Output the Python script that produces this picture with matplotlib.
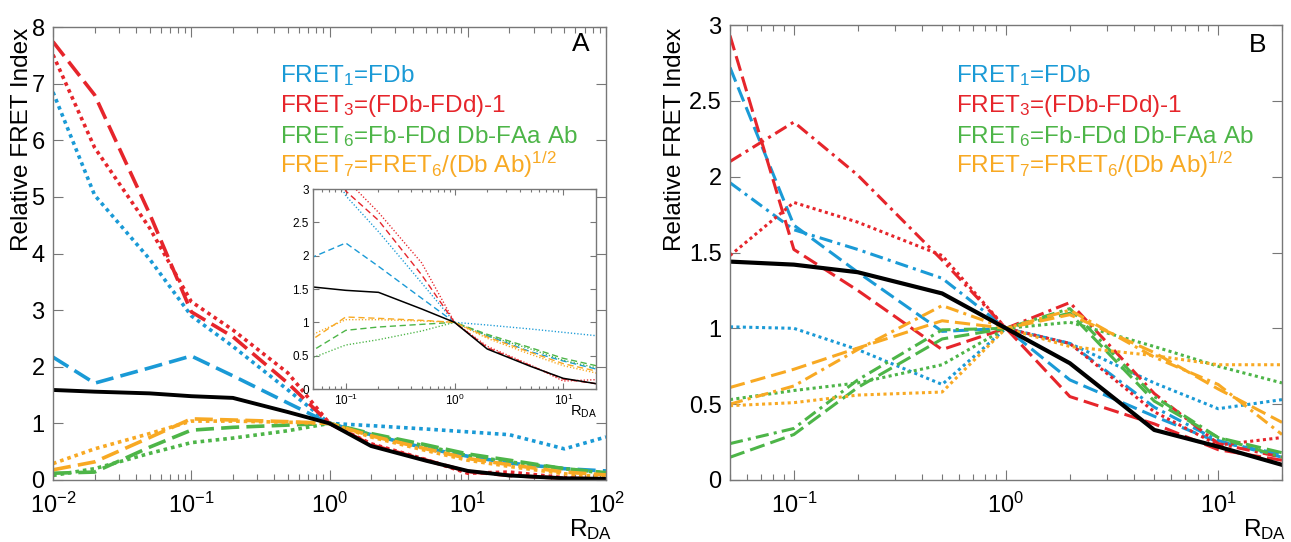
import matplotlib
matplotlib.use("Agg")
import matplotlib.pyplot as plt
from matplotlib.ticker import FixedLocator, FixedFormatter, LogLocator, NullFormatter, LogFormatterMathtext

plt.rcParams['font.family'] = ['Liberation Sans', 'DejaVu Sans']
plt.rcParams['mathtext.fontset'] = 'custom'
plt.rcParams['mathtext.rm'] = 'Liberation Sans'
plt.rcParams['mathtext.it'] = 'Liberation Sans:italic'
plt.rcParams['mathtext.bf'] = 'Liberation Sans:bold'
plt.rcParams['mathtext.default'] = 'regular'

# ---------------- data: panel A (and inset) ----------------
x_a = [0.01, 0.02, 0.05, 0.1, 0.2, 0.5, 1, 2, 5, 10, 20, 50, 100]
a_fret1_dotted = [6.85, 5.03, 3.9, 2.9, 2.36, 1.59, 1.0, 0.96, 0.9, 0.85, 0.8, 0.55, 0.76]
a_fret1_dashed = [2.17, 1.71, 1.98, 2.19, 1.84, 1.36, 1.0, 0.8, 0.56, 0.42, 0.3, 0.2, 0.16]
a_fret3_dashed = [7.74, 6.8, 4.7, 2.97, 2.53, 1.71, 1.0, 0.62, 0.35, 0.15, 0.08, 0.03, 0.02]
a_fret3_dotted = [7.51, 5.87, 4.45, 3.15, 2.65, 1.89, 1.0, 0.64, 0.36, 0.12, 0.14, 0.04, 0.02]
a_fret6_dashed = [0.12, 0.14, 0.58, 0.88, 0.93, 0.97, 1.0, 0.82, 0.62, 0.46, 0.35, 0.2, 0.13]
a_fret6_dotted = [0.08, 0.2, 0.47, 0.66, 0.74, 0.87, 1.0, 0.8, 0.6, 0.43, 0.32, 0.2, 0.12]
a_fret7_dashed = [0.18, 0.32, 0.75, 1.08, 1.06, 1.03, 1.0, 0.78, 0.55, 0.38, 0.27, 0.14, 0.09]
a_fret7_dotted = [0.29, 0.55, 0.82, 1.04, 1.04, 1.02, 1.0, 0.76, 0.52, 0.35, 0.24, 0.11, 0.05]
a_black = [1.59, 1.56, 1.53, 1.48, 1.45, 1.2, 1.0, 0.6, 0.34, 0.16, 0.08, 0.03, 0.02]

# ---------------- data: panel B ----------------
x_b = [0.05, 0.1, 0.2, 0.5, 1, 2, 5, 10, 20]
b_fret1_dashed = [2.72, 1.68, 1.37, 0.98, 1.0, 0.66, 0.42, 0.25, 0.17]
b_fret1_dashdot = [1.96, 1.65, 1.52, 1.33, 1.0, 0.90, 0.48, 0.26, 0.15]
b_fret1_dotted = [1.01, 1.0, 0.86, 0.63, 1.0, 0.90, 0.64, 0.47, 0.53]
b_fret3_dashed = [2.93, 1.52, 1.25, 0.86, 1.0, 0.55, 0.37, 0.20, 0.13]
b_fret3_dashdot = [2.1, 2.36, 2.01, 1.45, 1.0, 1.17, 0.57, 0.24, 0.15]
b_fret3_dotted = [1.48, 1.83, 1.70, 1.48, 1.0, 0.90, 0.45, 0.23, 0.28]
b_fret6_dashed = [0.15, 0.30, 0.61, 0.93, 1.0, 1.10, 0.52, 0.28, 0.18]
b_fret6_dashdot = [0.24, 0.34, 0.66, 0.99, 1.0, 1.13, 0.55, 0.28, 0.15]
b_fret6_dotted = [0.53, 0.59, 0.64, 0.76, 1.0, 1.04, 0.88, 0.75, 0.64]
b_fret7_dashed = [0.61, 0.73, 0.87, 1.05, 1.0, 1.09, 0.84, 0.60, 0.38]
b_fret7_dashdot = [0.50, 0.62, 0.86, 1.15, 1.0, 1.12, 0.81, 0.63, 0.30]
b_fret7_dotted = [0.49, 0.51, 0.56, 0.58, 1.0, 0.88, 0.82, 0.76, 0.76]
b_black = [1.44, 1.42, 1.37, 1.23, 1.0, 0.77, 0.33, 0.22, 0.10]

legend_labels = [r'FRET$_1$=FDb', r'FRET$_3$=(FDb-FDd)-1',
                 r'FRET$_6$=Fb-FDd Db-FAa Ab', r'FRET$_7$=FRET$_6$/(Db Ab)$^{1/2}$']

BLUE = '#1a9ad6'
RED = '#e6252b'
GREEN = '#4db548'
ORANGE = '#f8a923'
SPINE = '#777777'

DASH = (5, 2)
DOT = (1, 1.1)
DASHDOT = (4.3, 1.7, 1, 1.7)

fig = plt.figure(figsize=(12.91, 5.42), dpi=100)
axA = fig.add_axes([53/1291, 1-480/542, 553/1291, 453/542])
axB = fig.add_axes([730/1291, 1-480/542, 552/1291, 455/542])
axI = fig.add_axes([313/1291, 1-389/542, 283/1291, 200/542])


def style_axes(ax, fs, majlen, minlen):
    ax.set_xscale('log')
    for s in ax.spines.values():
        s.set_color(SPINE)
        s.set_linewidth(1.0)
    ax.tick_params(which='both', direction='in', top=True, right=True, color=SPINE,
                   labelsize=fs, width=0.8)
    ax.tick_params(which='major', length=majlen)
    ax.tick_params(which='minor', length=minlen)
    ax.xaxis.set_major_locator(LogLocator(base=10, numticks=20))
    ax.xaxis.set_major_formatter(LogFormatterMathtext())
    ax.xaxis.set_minor_locator(LogLocator(base=10, subs=range(2, 10), numticks=20))
    ax.xaxis.set_minor_formatter(NullFormatter())


def yfmt(vals):
    return [('%g' % v) for v in vals]


# ---------------- Panel A ----------------
lwA = 2.6
series_A = [
    (a_fret1_dotted, BLUE, DOT), (a_fret1_dashed, BLUE, DASH),
    (a_fret3_dashed, RED, DASH), (a_fret3_dotted, RED, DOT),
    (a_fret6_dashed, GREEN, DASH), (a_fret6_dotted, GREEN, DOT),
    (a_fret7_dashed, ORANGE, DASH), (a_fret7_dotted, ORANGE, DOT),
]
for ys, c, d in series_A:
    axA.plot(x_a, ys, color=c, lw=lwA, dashes=d)
axA.plot(x_a, a_black, color='black', lw=2.8, solid_capstyle='butt')
style_axes(axA, 17, 7, 4)
axA.set_xlim(0.01, 100)
axA.set_ylim(0, 8)
yt = [0, 1, 2, 3, 4, 5, 6, 7, 8]
axA.yaxis.set_major_locator(FixedLocator(yt))
axA.yaxis.set_major_formatter(FixedFormatter(yfmt(yt)))
axA.tick_params(axis='x', pad=9)
axA.tick_params(axis='y', pad=6)
axA.text(0.955, 0.962, 'A', transform=axA.transAxes, fontsize=19, ha='center', va='center')
fig.text(591/1291, 1-530/542, r'R$_{\mathrm{DA}}$', fontsize=17.5, ha='center', va='center')

# ---------------- Inset ----------------
for ys, c, d in series_A:
    axI.plot(x_a, ys, color=c, lw=1.0, dashes=(d[0]*0.9, d[1]*1.3) if len(d) == 2 else d)
axI.plot(x_a, a_black, color='black', lw=1.1)
style_axes(axI, 8.5, 4, 2.5)
axI.set_xlim(0.05, 20)
axI.set_ylim(0, 3)
yti = [0, 0.5, 1, 1.5, 2, 2.5, 3]
axI.yaxis.set_major_locator(FixedLocator(yti))
axI.yaxis.set_major_formatter(FixedFormatter(yfmt(yti)))
axI.tick_params(pad=3)
axI.text(0.954, -0.115, r'R$_{\mathrm{DA}}$', transform=axI.transAxes, fontsize=10.5,
         ha='center', va='center')

# ---------------- Panel B ----------------
lwB = 2.2
series_B = [
    (b_fret1_dashed, BLUE, DASH), (b_fret1_dashdot, BLUE, DASHDOT), (b_fret1_dotted, BLUE, DOT),
    (b_fret3_dashed, RED, DASH), (b_fret3_dashdot, RED, DASHDOT), (b_fret3_dotted, RED, DOT),
    (b_fret6_dashed, GREEN, DASH), (b_fret6_dashdot, GREEN, DASHDOT), (b_fret6_dotted, GREEN, DOT),
    (b_fret7_dashed, ORANGE, DASH), (b_fret7_dashdot, ORANGE, DASHDOT), (b_fret7_dotted, ORANGE, DOT),
]
for ys, c, d in series_B:
    axB.plot(x_b, ys, color=c, lw=lwB, dashes=d)
axB.plot(x_b, b_black, color='black', lw=3.0)
style_axes(axB, 17, 7, 4)
axB.set_xlim(0.05, 20)
axB.set_ylim(0, 3)
ytb = [0, 0.5, 1, 1.5, 2, 2.5, 3]
axB.yaxis.set_major_locator(FixedLocator(ytb))
axB.yaxis.set_major_formatter(FixedFormatter(yfmt(ytb)))
axB.tick_params(axis='x', pad=9)
axB.tick_params(axis='y', pad=6)
axB.text(0.955, 0.957, 'B', transform=axB.transAxes, fontsize=19, ha='center', va='center')
fig.text(1286/1291, 1-530/542, r'R$_{\mathrm{DA}}$', fontsize=17.5, ha='right', va='center')

# ---------------- legends (colored text) ----------------
leg_colors = [BLUE, RED, GREEN, ORANGE]
baselines = [82, 112, 143, 173]
for x0 in (280, 956):
    for lab, c, yb in zip(legend_labels, leg_colors, baselines):
        fig.text(x0/1291, 1-yb/542, lab, color=c, fontsize=17.5, ha='left', va='baseline')

# ---------------- y labels ----------------
fig.text(22/1291, 1-139/542, 'Relative FRET Index', rotation=90, fontsize=17.5,
         ha='center', va='center')
fig.text(675/1291, 1-139/542, 'Relative FRET Index', rotation=90, fontsize=17.5,
         ha='center', va='center')

fig.savefig('out.png', dpi=100)
